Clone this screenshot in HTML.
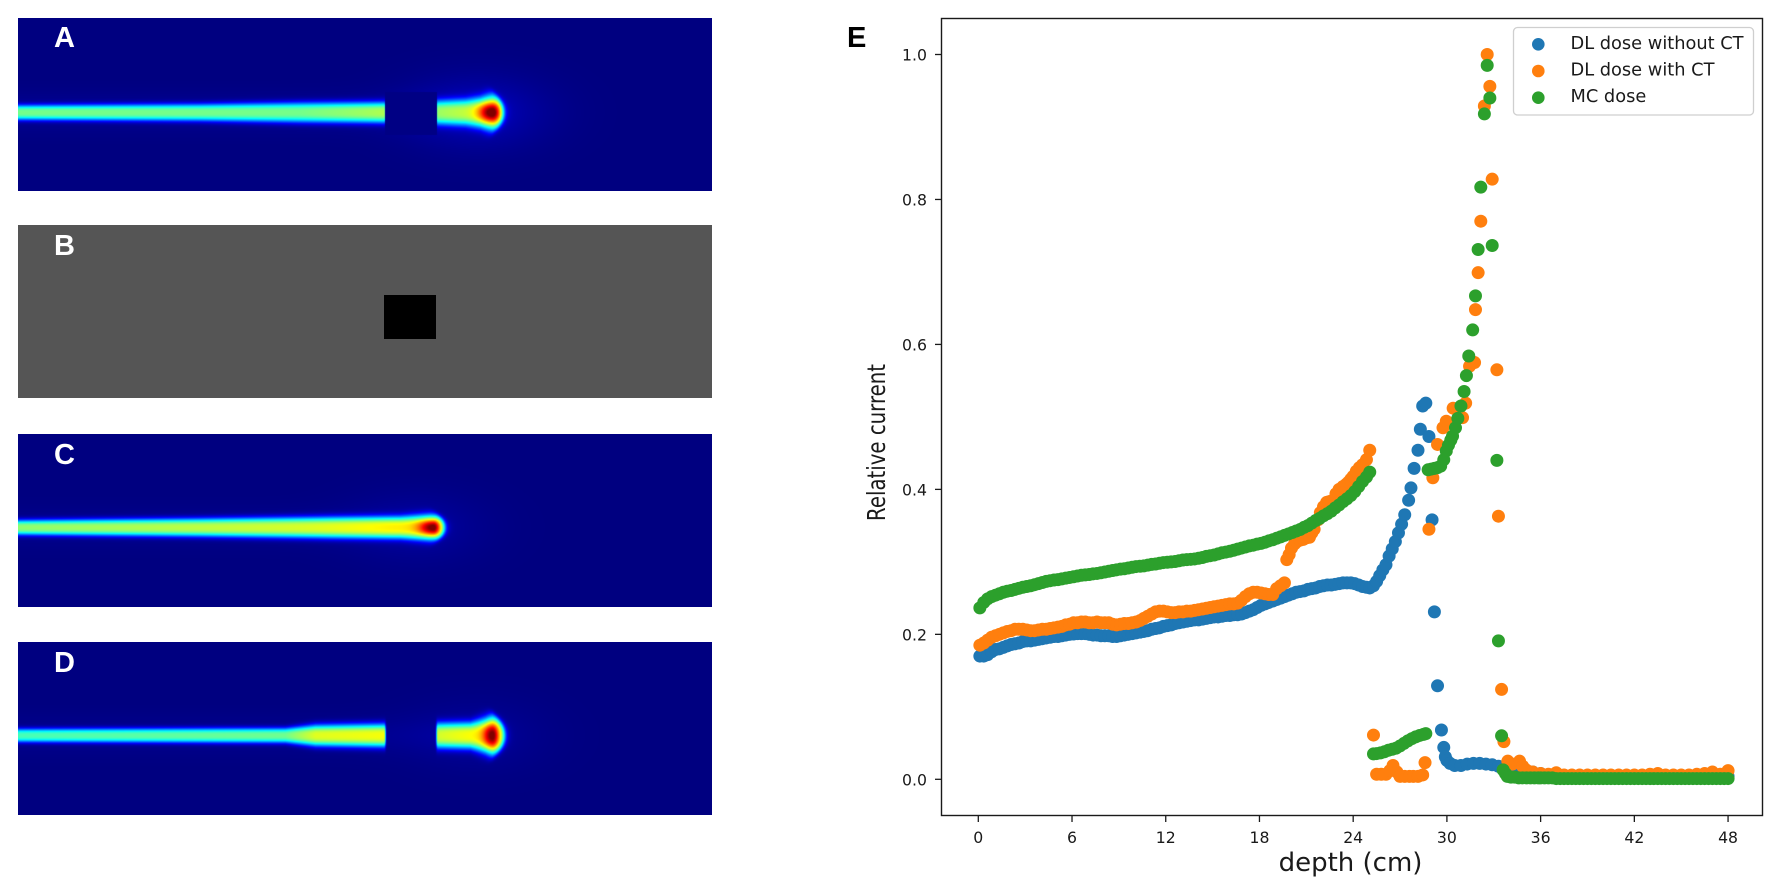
<!DOCTYPE html>
<html lang="en">
<head>
<meta charset="utf-8">
<title>Dose comparison panels and depth-current chart</title>
<style>
  html, body { margin: 0; padding: 0; background: #fff; }
  #page { position: relative; width: 1772px; height: 890px; overflow: hidden; background: #fff; }
  canvas { position: absolute; display: block; }
  .panel-letter { position: absolute; font: bold 29px "Liberation Sans", sans-serif; line-height: 28px; color: #fff; }
  #chart { position: absolute; left: 0; top: 0; }
  #chart text { font-family: "DejaVu Sans", "Liberation Sans", sans-serif; fill: #1a1a1a; }
</style>
</head>
<body>
<div id="page">
  <canvas id="panel-a" width="694" height="173" style="left:18px;top:18px"></canvas>
  <div id="panel-b" style="position:absolute;left:18px;top:225px;width:694px;height:173px;background:#555">
    <div style="position:absolute;left:366px;top:70px;width:52px;height:44px;background:#000"></div>
  </div>
  <canvas id="panel-c" width="694" height="173" style="left:18px;top:434px"></canvas>
  <canvas id="panel-d" width="694" height="173" style="left:18px;top:642px"></canvas>
  <div class="panel-letter" style="left:54px;top:24px">A</div>
  <div class="panel-letter" style="left:54px;top:232px">B</div>
  <div class="panel-letter" style="left:54px;top:441px">C</div>
  <div class="panel-letter" style="left:54px;top:649px">D</div>
  <div class="panel-letter" style="left:847px;top:24px;color:#000">E</div>
  <svg id="chart" width="1772" height="890" xmlns="http://www.w3.org/2000/svg"></svg>
</div>

<script>
// ---- Chart data ----
const xTickValues = [0, 6, 12, 18, 24, 30, 36, 42, 48];
const yTickValues = [0.0, 0.2, 0.4, 0.6, 0.8, 1.0];
const seriesNames = ["DL dose without CT", "DL dose with CT", "MC dose"];
const seriesColors = ["#1f77b4", "#ff7f0e", "#2ca02c"];

const blueDepth = [
  0.1,0.35,0.6,0.85,1.1,1.35,1.6,1.85,2.1,2.35,
  2.6,2.85,3.1,3.35,3.6,3.85,4.1,4.35,4.6,4.85,
  5.1,5.35,5.6,5.85,6.1,6.35,6.6,6.85,7.1,7.35,
  7.6,7.85,8.1,8.35,8.6,8.85,9.1,9.35,9.6,9.85,
  10.1,10.35,10.6,10.85,11.1,11.35,11.6,11.85,12.1,12.35,
  12.6,12.85,13.1,13.35,13.6,13.85,14.1,14.35,14.6,14.85,
  15.1,15.35,15.6,15.85,16.1,16.35,16.6,16.85,17.1,17.35,
  17.6,17.85,18.1,18.35,18.6,18.85,19.1,19.35,19.6,19.85,
  20.1,20.35,20.6,20.85,21.1,21.35,21.6,21.85,22.1,22.35,
  22.6,22.85,23.1,23.35,23.6,23.85,24.1,24.35,24.6,24.85,25.06,
  25.3,25.5,25.7,25.9,26.1,26.3,26.5,26.7,26.9,27.1,
  27.3,27.55,27.7,27.9,28.15,28.3,28.45,
  28.65,28.85,29.05,29.2,29.4,29.65,29.8,29.9,30.0,30.2,
  30.5,30.9,31.3,31.7,32.1,32.5,32.9,33.3,33.7,34.1,
  34.5,35,35.5,36,36.6,37,38,39,40,41,
  42,43,44,45,46,47,48
];
const blueValue = [
  .170,.170,.172,.176,.179,.180,.182,.184,.186,.187,
  .188,.190,.191,.191,.192,.193,.194,.195,.196,.197,
  .197,.198,.199,.200,.2005,.201,.201,.201,.200,.199,
  .199,.198,.198,.198,.197,.197,.198,.199,.200,.201,
  .202,.203,.204,.205,.207,.208,.209,.211,.212,.213,
  .215,.216,.217,.218,.219,.220,.220,.221,.222,.223,
  .224,.224,.225,.226,.226,.227,.227,.228,.230,.232,
  .234,.237,.240,.242,.244,.246,.248,.250,.252,.254,
  .256,.258,.259,.260,.262,.263,.264,.266,.267,.268,
  .268,.269,.270,.271,.271,.271,.270,.268,.266,.265,.264,
  .267,.273,.281,.289,.296,.308,.318,.328,.340,.352,
  .365,.385,.402,.429,.454,.483,.515,
  .519,.473,.358,.231,.129,.068,.044,.031,.026,.022,
  .019,.019,.021,.022,.022,.021,.020,.018,.014,.012,
  .012,.011,.010,.008,.006,.005,.004,.004,.004,.004,
  .004,.004,.004,.004,.004,.004,.004
];

const orangeDepth = [
  0.1,0.35,0.6,0.85,1.1,1.35,1.6,1.85,2.1,2.35,
  2.6,2.85,3.1,3.35,3.6,3.85,4.1,4.35,4.6,4.85,
  5.1,5.35,5.6,5.85,6.1,6.35,6.6,6.85,7.1,7.35,
  7.6,7.85,8.1,8.35,8.6,8.85,9.1,9.35,9.6,9.85,
  10.1,10.35,10.6,10.85,11.1,11.35,11.6,11.85,12.1,12.35,
  12.6,12.85,13.1,13.35,13.6,13.85,14.1,14.35,14.6,14.85,
  15.1,15.35,15.6,15.85,16.1,16.35,16.6,16.85,17.1,17.35,
  17.6,17.85,18.1,18.35,18.6,18.85,19.1,19.35,19.6,
  19.75,19.9,20.05,20.25,20.4,20.6,20.8,21,21.2,21.35,
  21.5,21.75,21.9,22.1,22.3,22.45,22.6,22.9,23.1,23.35,
  23.55,23.7,23.85,24,24.2,24.4,24.6,24.85,25.06,
  25.3,
  25.5,25.8,26.1,26.35,26.55,26.8,27,27.3,27.6,27.85,
  28.15,28.45,28.6,28.85,29.1,29.4,29.75,29.96,30.4,31,
  31.2,31.45,31.77,31.83,32.0,32.17,32.4,32.58,32.75,32.9,
  33.2,33.3,33.5,33.65,33.9,34.2,34.65,34.85,35.07,35.5,
  36,36.5,37,37.5,38,38.5,39,39.5,40,40.5,
  41,41.5,42,42.5,43,43.5,44,44.5,45,45.5,
  46,46.5,47,47.5,48
];
const orangeValue = [
  .185,.188,.192,.196,.198,.200,.202,.204,.205,.207,
  .207,.207,.206,.205,.205,.206,.207,.207,.208,.209,
  .210,.211,.213,.214,.216,.216,.217,.217,.216,.216,
  .217,.216,.216,.216,.214,.213,.214,.215,.215,.216,
  .217,.219,.222,.225,.228,.231,.232,.232,.231,.230,
  .230,.231,.231,.232,.232,.233,.234,.235,.236,.237,
  .238,.239,.240,.241,.242,.242,.243,.247,.252,.256,
  .258,.258,.257,.256,.255,.255,.263,.267,.271,
  .303,.310,.319,.325,.328,.330,.331,.333,.334,.340,
  .345,.358,.368,.376,.382,.383,.384,.394,.400,.404,
  .407,.410,.414,.418,.425,.430,.434,.441,.454,
  .061,
  .007,.007,.007,.012,.019,.010,.004,.004,.004,.004,
  .004,.006,.023,.345,.416,.462,.485,.494,.512,.499,
  .519,.570,.575,.648,.699,.770,.929,1.0,.956,.828,
  .565,.363,.124,.052,.025,.021,.025,.018,.013,.010,
  .008,.007,.009,.006,.006,.006,.006,.006,.006,.006,
  .006,.006,.006,.006,.007,.008,.006,.006,.006,.006,
  .007,.008,.010,.007,.012
];

const mcDepth = [
  0.1,0.35,0.6,0.85,1.1,1.35,1.6,1.85,2.1,2.35,
  2.6,2.85,3.1,3.35,3.6,3.85,4.1,4.35,4.6,4.85,
  5.1,5.35,5.6,5.85,6.1,6.35,6.6,6.85,7.1,7.35,
  7.6,7.85,8.1,8.35,8.6,8.85,9.1,9.35,9.6,9.85,
  10.1,10.35,10.6,10.85,11.1,11.35,11.6,11.85,12.1,12.35,
  12.6,12.85,13.1,13.35,13.6,13.85,14.1,14.35,14.6,14.85,
  15.1,15.35,15.6,15.85,16.1,16.35,16.6,16.85,17.1,17.35,
  17.6,17.85,18.1,18.35,18.6,18.85,19.1,19.35,19.6,19.85,
  20.1,20.35,20.6,20.85,21.1,21.35,21.6,21.85,22.1,22.35,
  22.6,22.85,23.1,23.35,23.6,23.85,24.1,24.35,24.6,24.85,25.06,
  25.3,25.5,25.75,26,26.25,26.5,26.75,27,27.25,27.5,27.75,28,28.25,28.5,28.65,
  28.8,29,29.2,29.4,29.6,29.8,29.96,30.1,30.25,30.36,30.55,30.7,30.9,31.1,
  31.25,31.4,31.65,31.83,32.0,32.17,32.4,32.58,32.75,32.9,
  33.2,33.3,33.5,33.6,33.75,33.87,34.1,34.35,34.6,34.85,
  35.1,35.35,35.6,35.85,36,36.25,36.5,36.75,37,37.25,
  37.5,37.75,38,38.25,38.5,38.75,39,39.25,39.5,39.75,
  40,40.25,40.5,40.75,41,41.25,41.5,41.75,42,42.25,
  42.5,42.75,43,43.25,43.5,43.75,44,44.25,44.5,44.75,
  45,45.25,45.5,45.75,46,46.25,46.5,46.75,47,47.25,
  47.5,47.75,48
];
const mcValue = [
  .2365,.244,.249,.252,.254,.256,.258,.2595,.2605,.262,
  .2635,.265,.266,.267,.2685,.270,.2715,.273,.274,.275,
  .2755,.2765,.2775,.2785,.2795,.2805,.2815,.282,.2825,.2835,
  .284,.285,.286,.287,.288,.289,.29,.2905,.2915,.2925,
  .2935,.294,.2945,.2955,.2965,.297,.298,.299,.2995,.30,
  .3005,.3015,.3025,.303,.3035,.304,.305,.306,.3075,.3085,
  .3095,.311,.3125,.3135,.3146,.316,.3175,.319,.3205,.322,
  .323,.3245,.3255,.327,.329,.3305,.3325,.3345,.3365,.3385,
  .3405,.3425,.3446,.3475,.350,.3535,.357,.360,.3635,.3665,
  .370,.3745,.3785,.383,.387,.3915,.397,.404,.411,.417,.4238,
  .035,.0355,.0365,.038,.040,.0415,.043,.046,.0495,.053,.056,.0585,.0605,.062,.063,
  .427,.428,.429,.43,.432,.441,.453,.461,.468,.4735,.485,.498,.515,.535,
  .557,.584,.62,.667,.731,.817,.918,.985,.940,.7365,
  .44,.191,.06,.013,.008,.004,.003,.003,.002,.002,
  .002,.002,.002,.002,.002,.002,.002,.002,.001,.001,
  .001,.001,.001,.001,.001,.001,.001,.001,.001,.001,
  .001,.001,.001,.001,.001,.001,.001,.001,.001,.001,
  .001,.001,.001,.001,.001,.001,.001,.001,.001,.001,
  .001,.001,.001,.001,.001,.001,.001,.001,.001,.001,
  .001,.001,.001
];

// ---- Axis functions ----
const plotLeft = 941.5, plotRight = 1762.5, plotTop = 18.5, plotBottom = 815.5;
function xScale(d) { return 978.3 + 15.62 * d; }
function yScale(v) { return 779.3 - 724.8 * v; }

const svgNS = "http://www.w3.org/2000/svg";
const chart = document.getElementById("chart");
function make(tag, attrs, parent) {
  const el = document.createElementNS(svgNS, tag);
  for (const k in attrs) el.setAttribute(k, attrs[k]);
  (parent || chart).appendChild(el);
  return el;
}

// Scatter marks
function drawSeries(depths, values, color, name) {
  const g = make("g", { fill: color });
  
  
  for (let i = 0; i < depths.length; i++) {
    const c = make("circle", { cx: xScale(depths[i]), cy: yScale(values[i]), r: 6.5 }, g);
    
    
  }
}
drawSeries(blueDepth, blueValue, seriesColors[0], "series-dl-dose-without-ct");
drawSeries(orangeDepth, orangeValue, seriesColors[1], "series-dl-dose-with-ct");
drawSeries(mcDepth, mcValue, seriesColors[2], "series-mc-dose");

// Axes frame
const frame = make("rect", { x: plotLeft, y: plotTop, width: plotRight - plotLeft, height: plotBottom - plotTop, fill: "none", stroke: "#1a1a1a", "stroke-width": 1.4 });



// X ticks
xTickValues.forEach(function (t) {
  const x = xScale(t);
  const tick = make("line", { x1: x, x2: x, y1: plotBottom, y2: plotBottom + 6.5, stroke: "#1a1a1a", "stroke-width": 1.3 });
  
  
  const label = make("text", { x: x, y: 843, "text-anchor": "middle", "font-size": 15.7 });
  
  
  label.textContent = String(t);
});

// Y ticks
yTickValues.forEach(function (t) {
  const y = yScale(t);
  const tick = make("line", { x1: plotLeft - 6.5, x2: plotLeft, y1: y, y2: y, stroke: "#1a1a1a", "stroke-width": 1.3 });
  
  
  const label = make("text", { x: 927, y: y + 6, "text-anchor": "end", "font-size": 15.7 });
  
  
  label.textContent = t.toFixed(1);
});

// Axis titles
const xTitle = make("text", { x: 1350.5, y: 871, "text-anchor": "middle", "font-size": 26 });


xTitle.textContent = "depth (cm)";

const yTitle = make("text", { x: 885, y: 442.5, "text-anchor": "middle", "font-size": 25, textLength: 157, lengthAdjust: "spacingAndGlyphs", transform: "rotate(-90 885 442.5)" });


yTitle.textContent = "Relative current";

// Legend
const legend = make("g", {});


const legendBox = make("rect", { x: 1513.5, y: 27.5, width: 240, height: 87.5, rx: 4, fill: "#fff", "fill-opacity": 0.85, stroke: "#cfcfcf", "stroke-width": 1.3 }, legend);


seriesNames.forEach(function (name, i) {
  const rowY = 44.3 + i * 26.7;
  const marker = make("circle", { cx: 1538.3, cy: rowY, r: 6.3, fill: seriesColors[i] }, legend);
  
  
  const text = make("text", { x: 1570.5, y: rowY + 4.5, "font-size": 17.8 }, legend);
  
  
  text.textContent = name;
});

// ---- Heat-map panels (jet colormap images) ----
function clip(v) { return v < 0 ? 0 : v > 1 ? 1 : v; }
function jet(v) {
  return [clip(1.5 - Math.abs(4 * v - 3)), clip(1.5 - Math.abs(4 * v - 2)), clip(1.5 - Math.abs(4 * v - 1))];
}
function lerp(points, x) {
  if (x <= points[0][0]) return points[0][1];
  for (let i = 1; i < points.length; i++) {
    if (x <= points[i][0]) {
      const a = points[i - 1], b = points[i];
      return a[1] + (b[1] - a[1]) * (x - a[0]) / (b[0] - a[0]);
    }
  }
  return points[points.length - 1][1];
}
function smooth(t) { t = clip(t); return t * t * (3 - 2 * t); }

function paintPanel(id, top, cfg) {
  const canvas = document.getElementById(id);
  const ctx = canvas.getContext("2d");
  const img = ctx.createImageData(canvas.width, canvas.height);
  for (let py = 0; py < canvas.height; py++) {
    for (let px = 0; px < canvas.width; px++) {
      const x = px + 18, y = py + top, dy = y - cfg.cy;
      const w = lerp(cfg.width, x);
      const level = lerp(cfg.level, x);
      let beam = level * Math.exp(-Math.pow(Math.abs(dy) / w, 3));
      const dxHot = x - cfg.hotX;
      const sx = dxHot < 0 ? cfg.hotL : cfg.hotR;
      const hot = Math.exp(-(dxHot * dxHot) / (sx * sx) - (dy * dy) / (cfg.hotY * cfg.hotY));
      let v = beam + (1 - level) * hot;
      const tipAtRow = cfg.tip - (dy * dy) / cfg.tipCurve;
      v *= 1 / (1 + Math.exp((x - tipAtRow) / 1.8));
      if (cfg.gap) {
        const edge = Math.max(smooth((cfg.gap[0] - x) / 3 + 0.5), smooth((x - cfg.gap[1]) / 3 + 0.5));
        v *= edge;
      }
      const hx = x - cfg.hotX + 15;
      v += cfg.halo * Math.exp(-(hx * hx) / 5000 - (dy * dy) / 1300);
      v += cfg.glow * Math.exp(-(dy * dy) / 360) / (1 + Math.exp((x - cfg.tip) / 8));
      if (cfg.square && x >= cfg.square[0] && x <= cfg.square[1] && y >= cfg.square[2] && y <= cfg.square[3]) v = 0.004;
      const c = jet(clip(v));
      const o = (py * canvas.width + px) * 4;
      img.data[o] = c[0] * 255;
      img.data[o + 1] = c[1] * 255;
      img.data[o + 2] = c[2] * 255;
      img.data[o + 3] = 255;
    }
  }
  ctx.putImageData(img, 0, 0);
}

paintPanel("panel-a", 18, {
  cy: 112,
  width: [[18,7.5],[200,8.5],[300,10],[385,10.5],[436,12],[465,13],[480,15],[492,19],[510,19]],
  level: [[18,.47],[300,.47],[385,.52],[436,.47],[470,.5],[510,.55]],
  gap: [385,436], square: [385,436,92,134],
  tip: 503, tipCurve: 48, hotX: 492, hotL: 13, hotR: 8, hotY: 10, halo: 0.05, glow: 0.02
});
paintPanel("panel-c", 434, {
  cy: 527,
  width: [[18,7.5],[200,9],[330,10.5],[400,11],[430,13],[450,13]],
  level: [[18,.5],[300,.57],[390,.6],[450,.6]],
  tip: 444, tipCurve: 30, hotX: 433, hotL: 14, hotR: 6, hotY: 7.5, halo: 0.025, glow: 0.015
});
paintPanel("panel-d", 642, {
  cy: 735,
  width: [[18,6.8],[285,7.5],[315,10.5],[385,11.5],[436,12.5],[470,13],[485,17],[492,20],[510,20]],
  level: [[18,.43],[285,.47],[315,.58],[385,.6],[436,.55],[480,.6],[510,.6]],
  gap: [385,436],
  tip: 504, tipCurve: 50, hotX: 492, hotL: 9, hotR: 6, hotY: 13, halo: 0.02, glow: 0.015
});
</script>
</body>
</html>
